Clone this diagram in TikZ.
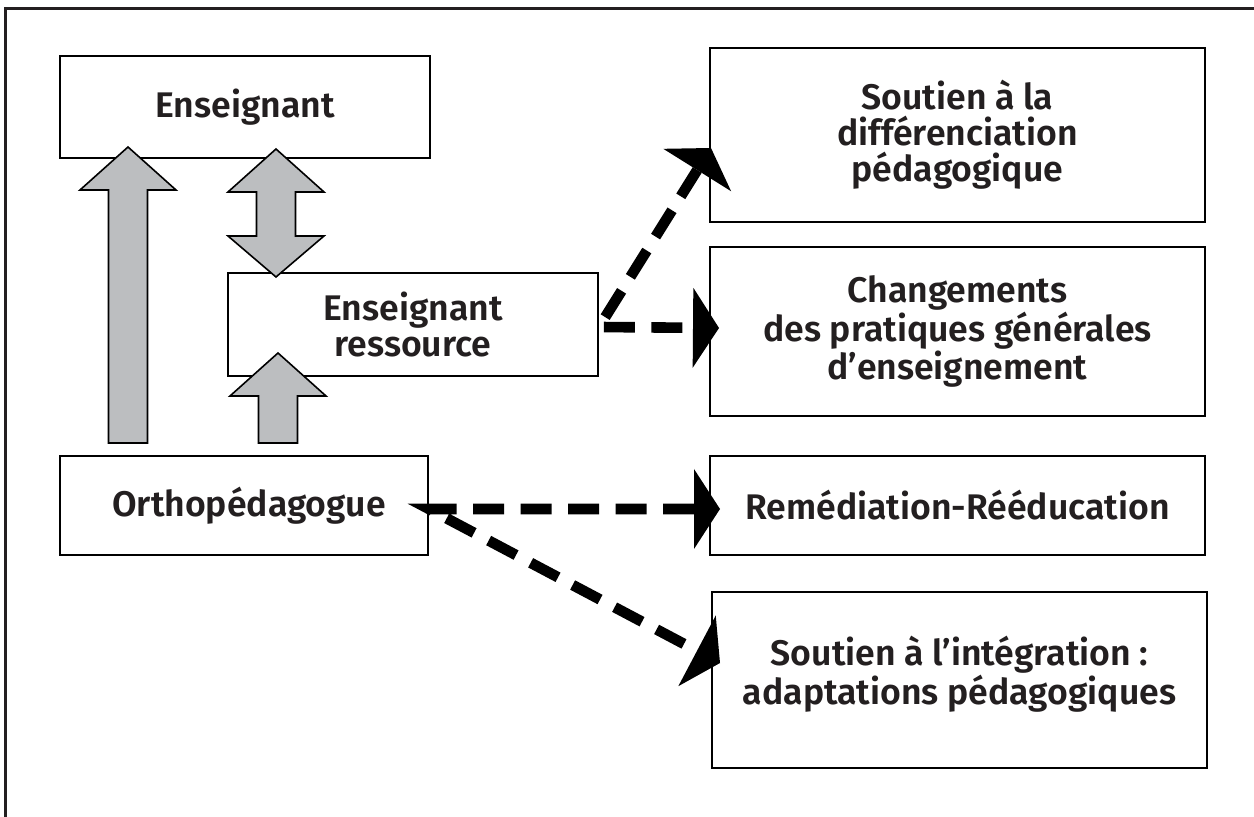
\documentclass[tikz,border=0pt]{standalone}
\usepackage{fontspec}
\newfontfamily\labelfont{Fira Sans SemiBold}
\usetikzlibrary{arrows.meta,calc}
\definecolor{inkblack}{RGB}{35,31,32}
\definecolor{arrowgray}{RGB}{188,190,192}
% upward block arrow: centre x, tip y, tail y (pixel units, y grows downward)
\newcommand\upblock[3]{%
  \draw[blockarrow] (#1-19.5,#3) -- (#1-19.5,#2+43) -- (#1-48,#2+43) -- (#1,#2)
    -- (#1+48,#2+43) -- (#1+19.5,#2+43) -- (#1+19.5,#3) -- cycle;}
% vertical double-headed block arrow: centre x, top tip y, bottom tip y
\newcommand\dualblock[3]{%
  \draw[blockarrow] (#1,#2) -- (#1+48,#2+43) -- (#1+19.5,#2+43) -- (#1+19.5,#3-41)
    -- (#1+48,#3-41) -- (#1,#3) -- (#1-48,#3-41) -- (#1-19.5,#3-41)
    -- (#1-19.5,#2+43) -- (#1-48,#2+43) -- cycle;}
\begin{document}
\begin{tikzpicture}[x=0.5pt,y=-0.5pt,
  box/.style={draw=black,line width=1pt,fill=white,align=center,inner sep=0pt,
    text=inkblack,font=\labelfont\fontsize{17.8}{18}\selectfont},
  blockarrow/.style={draw=black,line width=0.8pt,fill=arrowgray,line join=miter},
  flowtip/.tip={Triangle[length=13pt,width=40pt,line width=0pt]},
  dasharrow/.style={draw=black,line width=5.3pt,dash pattern=on 15.5pt off 8.25pt,
    line cap=butt,line join=miter,{flowtip}-{flowtip}}]
  \useasboundingbox (0,0) rectangle (1254,817);
  % frame
  \draw[line width=1.5pt,inkblack] (5,817) -- (5,9) -- (1254,9);

  % boxes
  \node[box,minimum width=185pt,minimum height=51pt] (ens) at (245,107) {Enseignant};
  \node[box,minimum width=185pt,minimum height=51.5pt] (res) at (413,324.5)
    {Enseignant\\ressource};
  \node[box,minimum width=184pt,minimum height=49.5pt] (ortho) at (244,505.5)
    {\hspace*{5pt}Orthopédagogue};
  \node[box,minimum width=247.5pt,minimum height=87pt] (diff) at (957.5,135)
    {Soutien à la\\différenciation\\pédagogique};
  \node[box,minimum width=247.5pt,minimum height=84.5pt] (chg) at (957.5,331.5)
    {Changements\\des pratiques générales\\d’enseignement};
  \node[box,minimum width=247.5pt,minimum height=49.5pt] (rem) at (957.5,505.5)
    {Remédiation-Rééducation};
  \node[box,minimum width=247.5pt,minimum height=88pt] (integ) at (959.5,680)
    {Soutien à l’intégration :\\adaptations pédagogiques\\[-8pt]};

  % grey block arrows
  \upblock{128}{147}{443}
  \dualblock{276}{149}{277}
  \upblock{278}{353}{443}

  % dashed connectors
  \coordinate (rj) at ($(res.east)+(0,2.5)$);
  \coordinate (oj) at ($(ortho.east)+(0,3.5)$);
  \coordinate (difftip) at ($(diff.west)+(2,13)$);
  \coordinate (chgtip) at ($(chg.west)+(10,-3.5)$);
  \coordinate (remtip) at ($(rem.west)+(11,3.5)$);
  \coordinate (integtip) at ($(integ.west)+(9,-17)$);
  \draw[dasharrow] (difftip) -- (rj) -- (chgtip);
  \draw[dasharrow] (remtip) -- (oj) -- (integtip);
\end{tikzpicture}
\end{document}
